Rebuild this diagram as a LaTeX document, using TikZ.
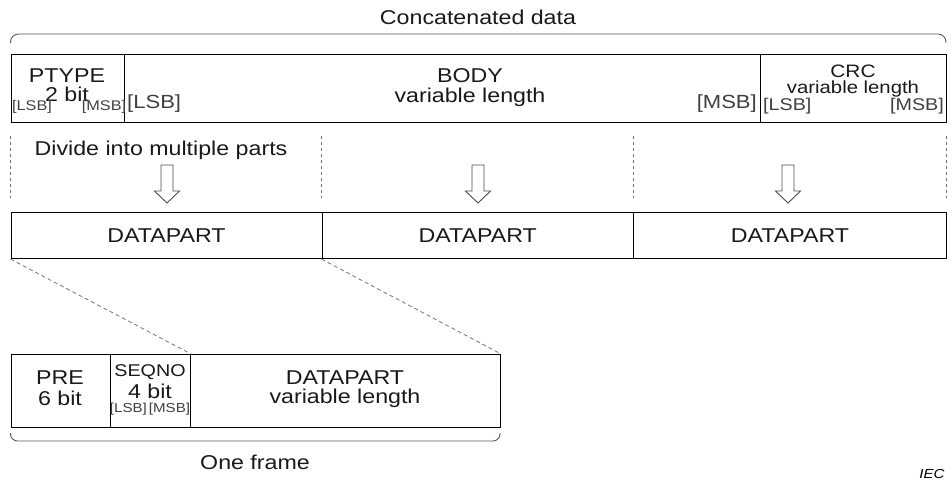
\documentclass[tikz,border=0pt]{standalone}
\usepackage{fontspec}
\setmainfont[FakeStretch=1.16]{Liberation Sans}
\begin{document}
\begin{tikzpicture}[x=1pt,y=-1pt,
  cell/.style={draw=black,line width=1.1pt,inner sep=0pt,anchor=north west},
  big/.style={font=\fontsize{20}{23}\selectfont,text=black!90,inner sep=0pt},
  mid/.style={font=\fontsize{17}{20}\selectfont,text=black!90,inner sep=0pt},
  tiny/.style={font=\fontsize{14}{16}\selectfont,text=black!75,inner sep=0pt},
  lsb/.style={font=\fontsize{19}{22}\selectfont,text=black!75,inner sep=0pt},
  sep/.style={draw=black!55,dashed,line width=0.8pt},
  hollow/.style={draw=black!70,line width=0.9pt,fill=white},
  brk/.style={draw=black!65,line width=0.9pt,rounded corners=8pt}]
\useasboundingbox (0,0) rectangle (951,482);
% top bracket
\node[big] (concat) at (478,17) {Concatenated data};
\coordinate (b1a) at (10.5,43); \coordinate (b1b) at (946,43);
\draw[brk] (b1a) -- (10.5,34) -- (946,34) -- (b1b);
% top row
\node[cell,minimum width=113.5pt,minimum height=68pt] (ptype) at (10.5,54) {};
\node[cell,minimum width=636pt,minimum height=68pt] (body) at (124,54) {};
\node[cell,minimum width=186pt,minimum height=68pt] (crc) at (760,54) {};
\node[big] (ptypet) at (67,76) {PTYPE};
\node[big] (ptypeb) at (67,94) {2 bit};
\node[tiny] (ptl) at (32,107) {[LSB]};
\node[tiny] (ptm) at (104,107) {[MSB]};
\node[big] (bodyt) at (470,76) {BODY};
\node[big] (bodyv) at (470,97) {variable length};
\node[lsb,anchor=west] (bl) at (127,104) {[LSB]};
\node[lsb,anchor=east] (bm) at (757,104) {[MSB]};
\node[big,font=\fontsize{18}{20}\selectfont] (crct) at (853,71) {CRC};
\node[mid,font=\fontsize{17.5}{19}\selectfont] (crcv) at (853,89) {variable length};
\node[lsb,font=\fontsize{17}{20}\selectfont,anchor=west] (cl) at (763,106) {[LSB]};
\node[lsb,font=\fontsize{17}{20}\selectfont,anchor=east] (cm) at (944,106) {[MSB]};
% dashed separators
\foreach \x/\n in {10.5/s0,321.5/s1,633/s2,946/s3}{
  \coordinate (\n t) at (\x,136); \coordinate (\n b) at (\x,198);
  \draw[sep] (\n t) -- (\n b);}
\node[big] (divide) at (161,150) {Divide into multiple parts};
% hollow arrows
\foreach \x in {167,478,788}{
  \draw[hollow] (\x-6,165) -- (\x+6,165) -- (\x+6,191) -- (\x+12.5,191) -- (\x,203)
    -- (\x-12.5,191) -- (\x-6,191) -- cycle;}
% datapart row
\node[cell,minimum width=311pt,minimum height=46pt] (dp1) at (10.5,212) {};
\node[cell,minimum width=311.5pt,minimum height=46pt] (dp2) at (321.5,212) {};
\node[cell,minimum width=313pt,minimum height=46pt] (dp3) at (633,212) {};
\node[big] at (dp1.center) {DATAPART};
\node[big] at (dp2.center) {DATAPART};
\node[big] at (dp3.center) {DATAPART};
% frame
\node[cell,minimum width=99pt,minimum height=73pt] (pre) at (10.5,354) {};
\node[cell,minimum width=80.5pt,minimum height=73pt] (seqno) at (109.5,354) {};
\node[cell,minimum width=310pt,minimum height=73pt] (fdata) at (190,354) {};
\draw[sep,dash pattern=on 4pt off 3pt] (dp1.south west) -- (seqno.north east);
\draw[sep,dash pattern=on 4pt off 3pt] (dp2.south west) -- (fdata.north east);
\node[big] (pret) at (60,378) {PRE};
\node[big] (preb) at (60,398) {6 bit};
\node[mid,font=\fontsize{17}{20}\selectfont] (seqt) at (150,372) {SEQNO};
\node[big] (seqb) at (150,391) {4 bit};
\node[tiny,font=\fontsize{13}{15}\selectfont] (seql) at (150,409) {[LSB]\,[MSB]};
\node[big] (fdt) at (345,378) {DATAPART};
\node[big] (fdv) at (345,398) {variable length};
% bottom bracket
\coordinate (b2a) at (10.5,433); \coordinate (b2b) at (500,433);
\draw[brk,rounded corners=7pt] (b2a) -- (10.5,441) -- (500,441) -- (b2b);
\node[big] (oneframe) at (255,462) {One frame};
\node[font=\fontsize{13}{15}\selectfont\itshape,inner sep=0pt] (iec) at (932,474) {IEC};
\end{tikzpicture}
\end{document}
